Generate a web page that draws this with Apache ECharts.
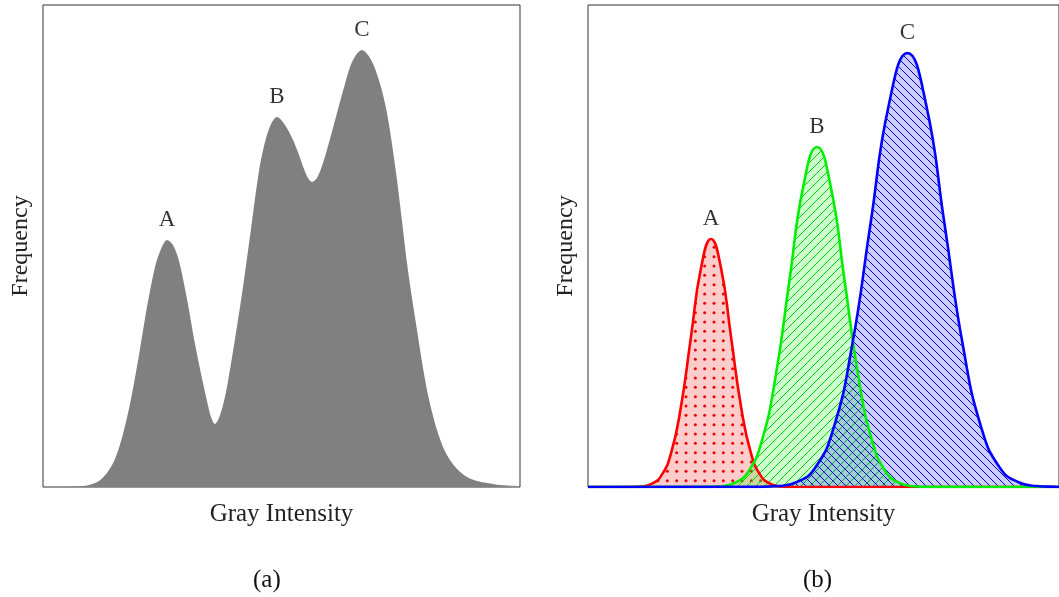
<!DOCTYPE html>
<html>
<head>
<meta charset="utf-8">
<script src="https://cdn.jsdelivr.net/npm/echarts@6/dist/echarts.min.js"></script>
<style>
  html, body { margin: 0; padding: 0; background: #fff; }
  #main { width: 1059px; height: 597px; }
</style>
</head>
<body>
<div id="main"></div>
<script>
// (a) overall histogram
var histX = [0, 20, 40, 48, 56, 64, 72, 80, 88, 96, 104, 112, 118, 124, 130, 136, 144, 152, 160, 164, 168, 172, 176, 180, 184, 192, 200, 208, 216, 222, 228, 234, 242, 250, 256, 261, 265, 269, 274, 280, 287, 294, 300, 307, 313, 319, 325, 331, 338, 344, 349, 354, 359, 364, 369, 374, 379, 384, 389, 394, 400, 407, 415, 424, 434, 444, 457, 477];
var histY = [0, 0, 1, 2.5, 6, 14, 28, 53, 88, 132, 180, 220, 238, 247, 242, 226, 188, 143, 104, 86, 70, 63, 69, 82, 100, 148, 200, 258, 316, 345, 363, 370, 362, 347, 332, 318, 309, 305, 309, 324, 348, 374, 396, 420, 432, 437, 432, 421, 400, 374, 343, 307, 266, 224, 189, 157, 125, 97, 75, 57, 40, 27, 17, 10, 6, 4, 2, 1];
var histPeakX = [124, 234, 319];
var histPeakY = [247, 370, 437];

// (b) the three components
var compAX = [0, 43, 53, 63, 73, 83, 93, 103, 113, 123, 133, 143, 153, 163, 173, 183, 193, 203, 471];
var compAY = [0, 0, 0.5, 2.8, 10.9, 33.6, 80.5, 150.4, 218.9, 248, 218.9, 150.4, 80.5, 33.6, 10.9, 2.8, 0.5, 0, 0];
var compBX = [0, 118.6, 132.4, 146.2, 160, 173.8, 187.6, 201.4, 215.2, 229, 242.8, 256.6, 270.4, 284.2, 298, 311.8, 325.6, 339.4, 471];
var compBY = [0, 0.1, 0.7, 3.8, 14.9, 46.0, 110.4, 206.2, 300.1, 340, 300.1, 206.2, 110.4, 46.0, 14.9, 3.8, 0.7, 0.1, 0];
var compCX = [0, 171.5, 190, 208.5, 227, 245.5, 264, 282.5, 301, 319.5, 338, 356.5, 375, 393.5, 412, 430.5, 449, 467.5, 471];
var compCY = [0, 0.15, 0.95, 4.8, 19.1, 58.7, 140.9, 263.2, 383.0, 434, 383.0, 263.2, 140.9, 58.7, 19.1, 4.8, 0.95, 0.15, 0];
var compPeakX = [123, 229, 319.5];
var compPeakY = [248, 340, 434];

var peakNames = ['A', 'B', 'C'];

var serif = '"Liberation Serif", "DejaVu Serif", serif';

function zip(xs, ys) {
    var out = [];
    for (var i = 0; i < xs.length; i++) out.push([xs[i], ys[i]]);
    return out;
}

// fill tiles: translucent colour plus dots or crisp 1px diagonal hatching
function pattern(kind, bg, fg) {
    var c = document.createElement('canvas');
    var s = kind === 'dots' ? 28 : (kind === 'slash' ? 9 : 8);
    c.width = s; c.height = s;
    var ctx = c.getContext('2d');
    ctx.fillStyle = bg;
    ctx.fillRect(0, 0, s, s);
    ctx.fillStyle = fg;
    if (kind === 'dots') {
        var step = s / 3;
        for (var i = 0; i < 3; i++) {
            for (var j = 0; j < 3; j++) {
                ctx.beginPath();
                ctx.arc(step / 2 + i * step, step / 2 + j * step, 1.5, 0, Math.PI * 2);
                ctx.fill();
            }
        }
    } else {
        for (var k = 0; k < s; k++) {
            if (kind === 'slash') ctx.fillRect(k, s - 1 - k, 1, 1);
            else ctx.fillRect(k, k, 1, 1);
        }
    }
    return { image: c, repeat: 'repeat' };
}

function peakLabels(xi, yi, xs, ys) {
    var data = [];
    for (var i = 0; i < xs.length; i++) data.push({ name: peakNames[i], value: [xs[i], ys[i]] });
    return {
        type: 'scatter', xAxisIndex: xi, yAxisIndex: yi, symbolSize: 1,
        itemStyle: { color: 'transparent' }, silent: true, z: 10,
        label: {
            show: true, position: 'top', distance: 8, formatter: '{b}',
            fontFamily: serif, fontSize: 23, color: '#000'
        },
        data: data
    };
}

function compSeries(xs, ys, line, pat) {
    return {
        type: 'line', xAxisIndex: 1, yAxisIndex: 1, smooth: 0.5, showSymbol: false,
        lineStyle: { color: line, width: 2.6 },
        areaStyle: { color: pat, opacity: 1 },
        data: zip(xs, ys)
    };
}

function nameStyle(size) {
    return { fontFamily: serif, fontSize: size, color: '#222' };
}

function xAx(idx, max) {
    return {
        type: 'value', gridIndex: idx, min: 0, max: max,
        name: 'Gray Intensity', nameLocation: 'middle', nameGap: 15, nameTextStyle: nameStyle(25),
        axisLine: { show: false }, axisTick: { show: false }, axisLabel: { show: false }, splitLine: { show: false }
    };
}
function yAx(idx) {
    return {
        type: 'value', gridIndex: idx, min: 0, max: 482,
        name: 'Frequency', nameLocation: 'middle', nameGap: 10, nameTextStyle: nameStyle(24),
        axisLine: { show: false }, axisTick: { show: false }, axisLabel: { show: false }, splitLine: { show: false }
    };
}

var myChart = echarts.init(document.getElementById('main'), null, { renderer: 'canvas' });
var option = {
    animation: false,
    backgroundColor: '#fff',
    grid: [
        { left: 43, top: 5, width: 477, height: 482, show: true, borderColor: '#333', borderWidth: 1 },
        { left: 588, top: 5, width: 471, height: 482, show: true, borderColor: '#333', borderWidth: 1 }
    ],
    xAxis: [xAx(0, 477), xAx(1, 471)],
    yAxis: [yAx(0), yAx(1)],
    graphic: [
        { type: 'text', left: 253, top: 568, style: { text: '(a)', font: '25px ' + serif, fill: '#111' } },
        { type: 'text', left: 803, top: 568, style: { text: '(b)', font: '25px ' + serif, fill: '#111' } }
    ],
    series: [
        {
            type: 'line', xAxisIndex: 0, yAxisIndex: 0, smooth: 0.3, showSymbol: false,
            lineStyle: { width: 0, color: '#808080' },
            areaStyle: { color: '#808080', opacity: 1 },
            data: zip(histX, histY)
        },
        peakLabels(0, 0, histPeakX, histPeakY),
        compSeries(compAX, compAY, '#ff0000', pattern('dots', 'rgba(255,0,0,0.2)', '#ee0000')),
        compSeries(compBX, compBY, '#00ee00', pattern('slash', 'rgba(0,255,0,0.2)', '#00d400')),
        compSeries(compCX, compCY, '#0000ff', pattern('back', 'rgba(0,0,255,0.2)', '#0000d0')),
        peakLabels(1, 1, compPeakX, compPeakY)
    ]
};
myChart.setOption(option);
</script>
</body>
</html>
